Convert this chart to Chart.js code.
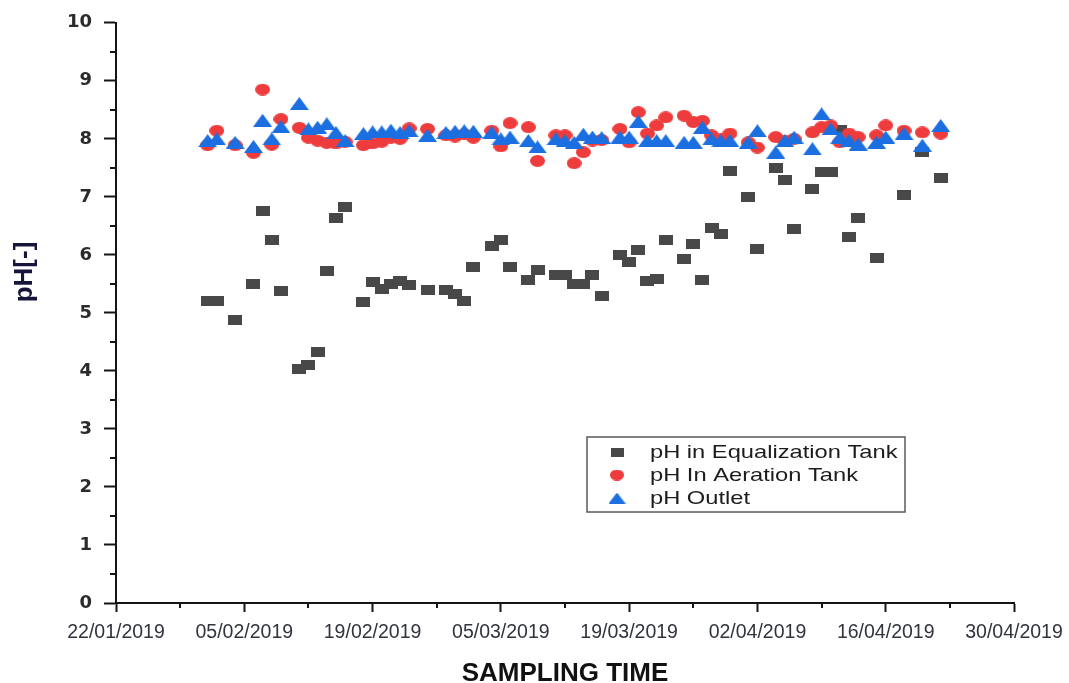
<!DOCTYPE html>
<html>
<head>
<meta charset="utf-8">
<title>pH sampling</title>
<script src="https://cdn.jsdelivr.net/npm/chart.js@4/dist/chart.umd.min.js"></script>
<style>
  html, body { margin: 0; padding: 0; background: #fff; }
  canvas { display: block; }
</style>
</head>
<body>
<canvas id="phChart" width="1069" height="683"></canvas>
<script>
// sampling dates (dd/mm, 2019) and measured pH
const eqDates = ['01/02','02/02','04/02','06/02','07/02','08/02','09/02','11/02','12/02','13/02','14/02','15/02','16/02',
    '18/02','19/02','20/02','21/02','22/02','23/02','25/02','27/02','28/02','01/03','02/03','04/03','05/03','06/03',
    '08/03','09/03','11/03','12/03','13/03','14/03','15/03','16/03','18/03','19/03','20/03','21/03','22/03','23/03',
    '25/03','26/03','27/03','28/03','29/03','30/03','01/04','02/04','04/04','05/04','06/04','08/04','09/04','10/04',
    '11/04','12/04','13/04','15/04','18/04','20/04','22/04'];
const eqPH = [5.21, 5.21, 4.88, 5.49, 6.76, 6.25, 5.37, 4.03, 4.11, 4.32, 5.73, 6.64, 6.83,
    5.19, 5.54, 5.41, 5.50, 5.55, 5.48, 5.40, 5.40, 5.32, 5.21, 5.79, 6.15, 6.25, 5.79,
    5.57, 5.74, 5.66, 5.66, 5.49, 5.49, 5.66, 5.29, 5.99, 5.88, 6.09, 5.55, 5.59, 6.25,
    5.93, 6.19, 5.56, 6.46, 6.36, 7.44, 6.99, 6.10, 7.50, 7.29, 6.44, 7.13, 7.43, 7.43,
    8.15, 6.31, 6.63, 5.95, 7.03, 7.77, 7.33];

const treatDates = ['01/02','02/02','04/02','06/02','07/02','08/02','09/02','11/02','12/02','13/02','14/02','15/02','16/02',
    '18/02','19/02','20/02','21/02','22/02','23/02','25/02','27/02','28/02','01/03','02/03','04/03','05/03','06/03',
    '08/03','09/03','11/03','12/03','13/03','14/03','15/03','16/03','18/03','19/03','20/03','21/03','22/03','23/03',
    '25/03','26/03','27/03','28/03','29/03','30/03','01/04','02/04','04/04','05/04','06/04','08/04','09/04','10/04',
    '11/04','12/04','13/04','15/04','16/04','18/04','20/04','22/04'];
const aerPH = [7.89, 8.14, 7.89, 7.76, 8.85, 7.90, 8.34, 8.19, 8.02, 7.97, 7.93, 7.92, 7.95,
    7.89, 7.92, 7.95, 8.02, 8.00, 8.18, 8.17, 8.06, 8.04, 8.08, 8.02, 8.14, 7.87, 8.27,
    8.20, 7.62, 8.06, 8.06, 7.58, 7.77, 7.97, 7.98, 8.17, 7.94, 8.46, 8.09, 8.23, 8.37,
    8.40, 8.29, 8.31, 8.06, 7.99, 8.09, 7.94, 7.85, 8.03, 7.97, 8.00, 8.11, 8.20, 8.23,
    7.94, 8.09, 8.03, 8.06, 8.23, 8.14, 8.11, 8.09];
const outPH = [7.97, 8.00, 7.94, 7.87, 8.32, 8.00, 8.21, 8.61, 8.17, 8.20, 8.26, 8.11, 7.97,
    8.09, 8.12, 8.12, 8.15, 8.11, 8.14, 8.06, 8.11, 8.13, 8.14, 8.13, 8.11, 8.00, 8.03,
    7.97, 7.86, 8.00, 7.97, 7.94, 8.08, 8.03, 8.02, 8.03, 8.03, 8.30, 7.97, 7.97, 7.97,
    7.94, 7.94, 8.20, 8.00, 7.97, 7.97, 7.94, 8.14, 7.77, 7.97, 8.03, 7.83, 8.43, 8.17,
    8.03, 7.97, 7.91, 7.94, 8.03, 8.09, 7.89, 8.23];

const seriesNames = ['pH in Equalization Tank', 'pH In Aeration Tank', 'pH Outlet'];
const xTitle = 'SAMPLING TIME';
const yTitle = 'pH[-]';

// x axis runs in days from 22/01/2019 to 30/04/2019, labelled every two weeks
const START = Date.UTC(2019, 0, 22);
const DAY = 86400000;
const X_MAX = 98;

function dayOf(s) {
    const [d, m] = s.split('/').map(Number);
    return (Date.UTC(2019, m - 1, d) - START) / DAY;
}
function fmtDay(n) {
    const dt = new Date(START + n * DAY);
    const dd = String(dt.getUTCDate()).padStart(2, '0');
    const mm = String(dt.getUTCMonth() + 1).padStart(2, '0');
    return dd + '/' + mm + '/' + dt.getUTCFullYear();
}
const toPoints = (dates, vals) => dates.map((d, i) => ({ x: dayOf(d), y: vals[i] }));

// marker bitmaps (slightly wider than tall)
function marker(w, h, draw) {
    const c = document.createElement('canvas');
    c.width = w; c.height = h;
    draw(c.getContext('2d'), w, h);
    return c;
}
const COL_EQ = '#484848', COL_AER = '#ee3c3c', COL_OUT = '#1b6fe0';
const sqMark = marker(14, 10, (g, w, h) => { g.fillStyle = COL_EQ; g.fillRect(0, 0, w, h); });
const dotMark = marker(15, 12, (g, w, h) => {
    g.fillStyle = COL_AER; g.beginPath();
    g.ellipse(w / 2, h / 2, w / 2, h / 2, 0, 0, Math.PI * 2); g.fill();
});
const triMark = marker(19, 13, (g, w, h) => {
    g.fillStyle = COL_OUT; g.beginPath();
    g.moveTo(w / 2, 0); g.lineTo(w, h); g.lineTo(0, h); g.closePath(); g.fill();
});
const legendMarks = [
    marker(13, 9, (g, w, h) => { g.fillStyle = COL_EQ; g.fillRect(0, 0, w, h); }),
    marker(14, 11, (g, w, h) => { g.fillStyle = COL_AER; g.beginPath(); g.ellipse(w / 2, h / 2, w / 2, h / 2, 0, 0, Math.PI * 2); g.fill(); }),
    marker(17, 11, (g, w, h) => { g.fillStyle = COL_OUT; g.beginPath(); g.moveTo(w / 2, 0); g.lineTo(w, h); g.lineTo(0, h); g.closePath(); g.fill(); })
];

const AXIS = '#151515';

// minor ticks, axis titles and the boxed legend
const decorPlugin = {
    id: 'decor',
    afterDraw(chart) {
        const { ctx, chartArea: a, scales: { x, y } } = chart;
        ctx.save();
        ctx.strokeStyle = AXIS;
        ctx.lineWidth = 2;
        ctx.beginPath();
        for (let d = 7; d < X_MAX; d += 14) {
            const px = Math.round(x.getPixelForValue(d));
            ctx.moveTo(px, a.bottom); ctx.lineTo(px, a.bottom + 5);
        }
        for (let v = 0.5; v < 10; v += 1) {
            const py = Math.round(y.getPixelForValue(v));
            ctx.moveTo(a.left, py); ctx.lineTo(a.left - 6, py);
        }
        ctx.stroke();

        ctx.fillStyle = '#111';
        ctx.textAlign = 'center';
        ctx.textBaseline = 'middle';
        ctx.font = 'bold 26px "Liberation Sans", Arial, sans-serif';
        ctx.fillText(xTitle, (a.left + a.right) / 2, 674);

        ctx.save();
        ctx.translate(25, 272);
        ctx.rotate(-Math.PI / 2);
        ctx.fillStyle = '#16163a';
        ctx.font = 'bold 26px "Liberation Sans", Arial, sans-serif';
        ctx.fillText(yTitle, 0, 0);
        ctx.restore();

        // legend box
        ctx.strokeStyle = '#5a5a5a';
        ctx.lineWidth = 1.5;
        ctx.strokeRect(587, 437, 318, 75);
        ctx.font = '18.5px "Liberation Sans", Arial, sans-serif';
        ctx.textAlign = 'left';
        ctx.fillStyle = '#1c1c1c';
        const rows = [452, 475, 498];
        seriesNames.forEach((name, i) => {
            const m = legendMarks[i];
            ctx.drawImage(m, 617 - m.width / 2, rows[i] - m.height / 2);
            ctx.save();
            ctx.translate(650, rows[i] + 1);
            ctx.scale(1.28, 1);
            ctx.fillText(name, 0, 0);
            ctx.restore();
        });
        ctx.restore();
    }
};

new Chart(document.getElementById('phChart'), {
    type: 'scatter',
    data: {
        datasets: [
            { label: seriesNames[0], data: toPoints(eqDates, eqPH), pointStyle: sqMark, pointRadius: 6, order: 3 },
            { label: seriesNames[1], data: toPoints(treatDates, aerPH), pointStyle: dotMark, pointRadius: 6, order: 2 },
            { label: seriesNames[2], data: toPoints(treatDates, outPH), pointStyle: triMark, pointRadius: 6, order: 1 }
        ]
    },
    options: {
        responsive: false,
        animation: false,
        layout: { padding: { top: 18, right: 55, left: 0, bottom: 0 } },
        plugins: {
            legend: { display: false },
            tooltip: { enabled: false }
        },
        scales: {
            x: {
                type: 'linear',
                min: 0,
                max: X_MAX,
                afterFit: s => { s.height = 80; s.paddingLeft = 0; s.paddingRight = 0; },
                border: { display: true, color: AXIS, width: 2 },
                grid: { drawOnChartArea: false, color: AXIS, tickColor: AXIS, tickLength: 9, tickWidth: 2 },
                ticks: {
                    stepSize: 14,
                    padding: 9,
                    maxRotation: 0,
                    autoSkip: false,
                    color: '#30343e',
                    font: { family: '"Liberation Sans", Arial, sans-serif', size: 19.5 },
                    callback: v => fmtDay(v)
                }
            },
            y: {
                min: 0,
                max: 10,
                afterFit: s => { s.width = 116; },
                border: { display: true, color: AXIS, width: 2 },
                grid: { drawOnChartArea: false, color: AXIS, tickColor: AXIS, tickLength: 12, tickWidth: 2 },
                ticks: {
                    stepSize: 1,
                    padding: 12,
                    color: '#2b2b2b',
                    font: { family: '"DejaVu Sans", sans-serif', size: 18, weight: 'bold' }
                }
            }
        }
    },
    plugins: [decorPlugin]
});
</script>
</body>
</html>
